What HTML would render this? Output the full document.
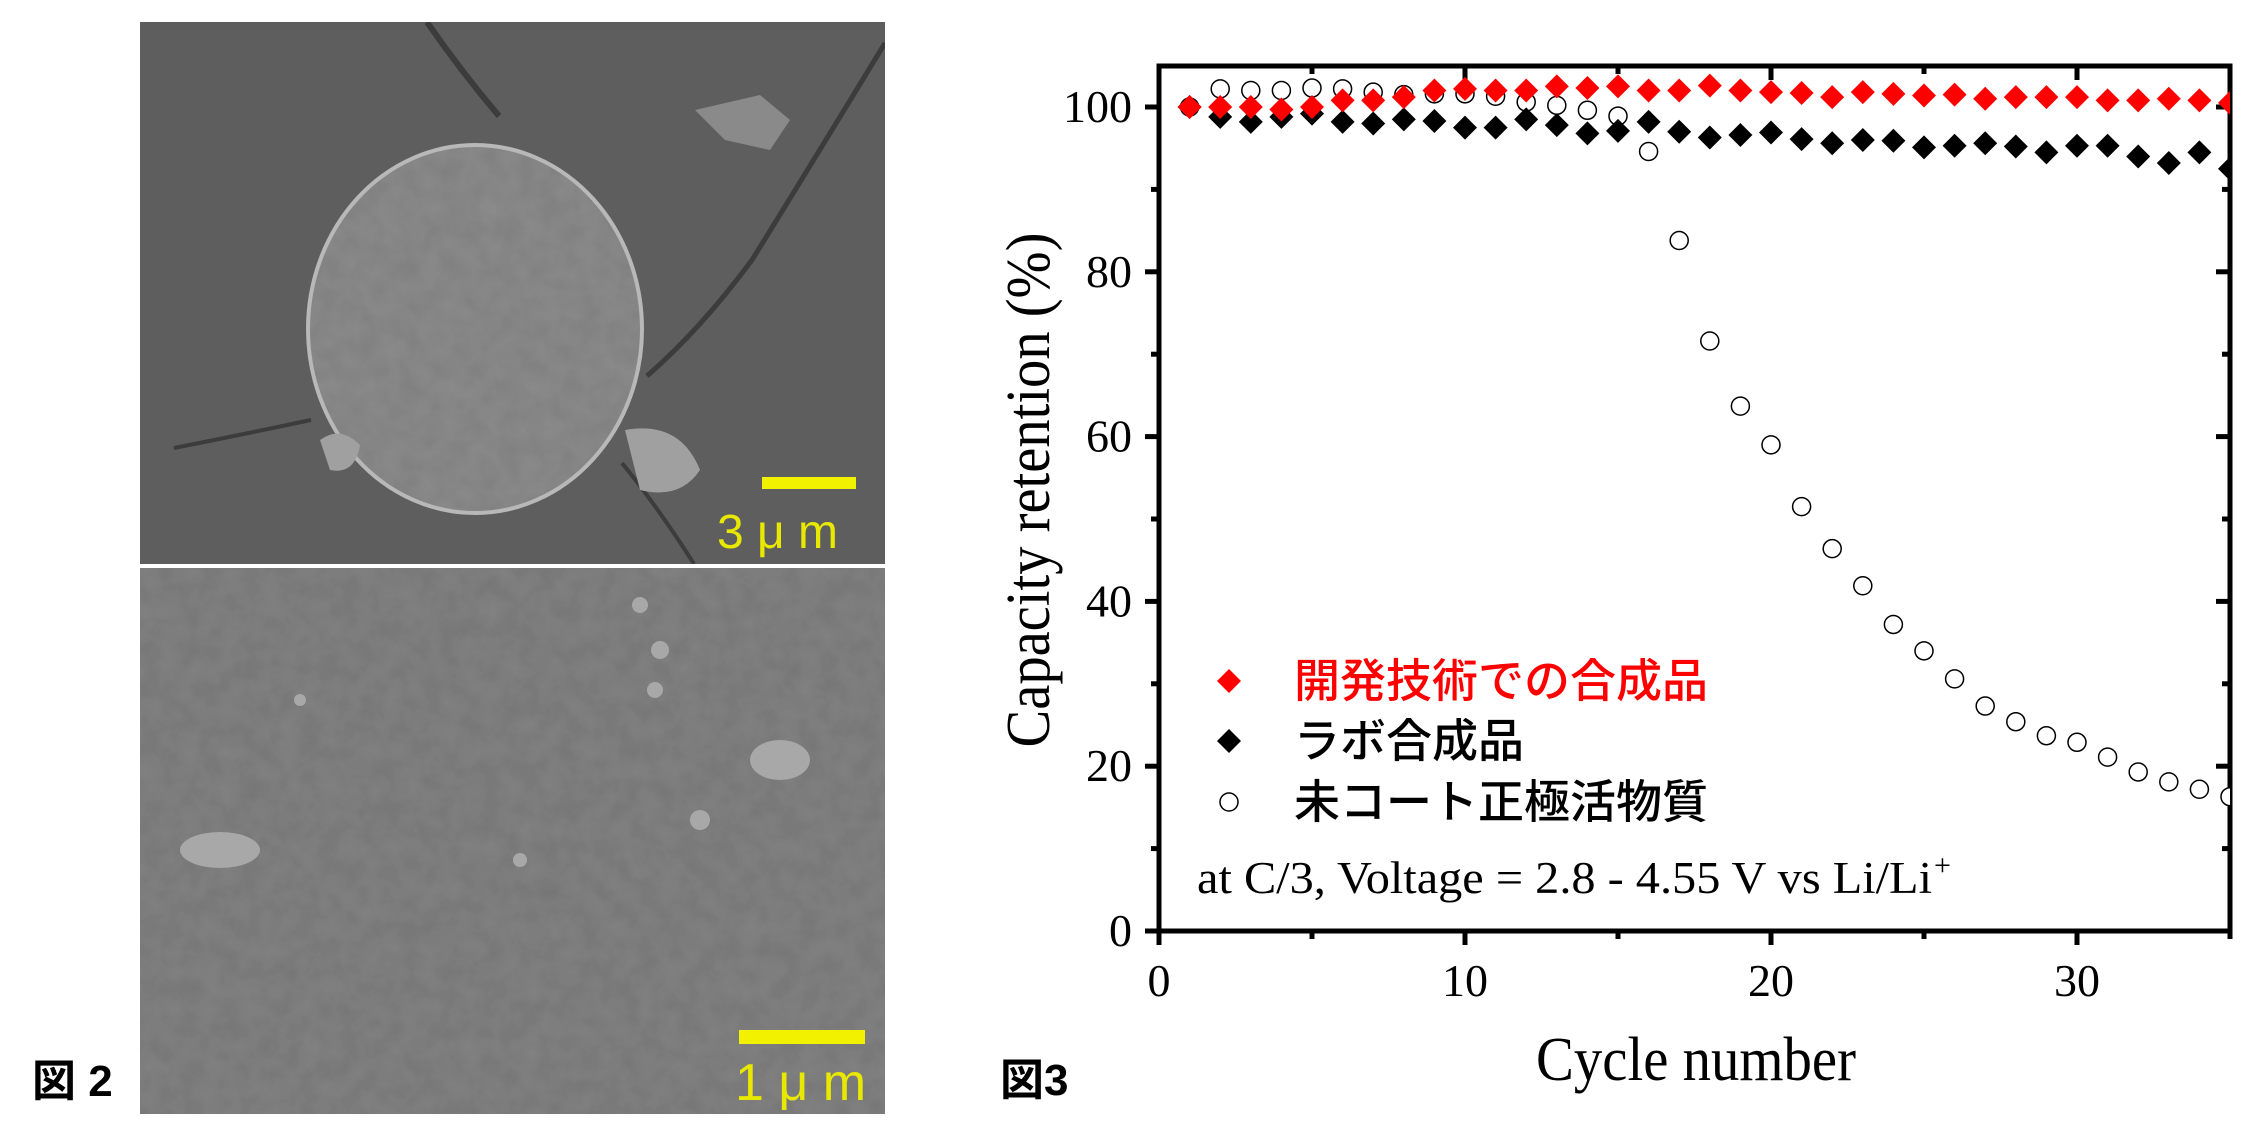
<!DOCTYPE html>
<html><head><meta charset="utf-8"><style>
html,body{margin:0;padding:0;background:#fff;}
svg{display:block;}
</style></head><body>
<svg width="2268" height="1134" viewBox="0 0 2268 1134" xmlns="http://www.w3.org/2000/svg">
<defs>
<filter id="tex" x="0" y="0" width="100%" height="100%">
<feTurbulence type="fractalNoise" baseFrequency="0.05" numOctaves="3" seed="3" result="n"/>
<feColorMatrix in="n" type="matrix" values="0 0 0 0 0.5  0 0 0 0 0.5  0 0 0 0 0.5  0 0 0 0.4 0" result="g"/>
<feComposite in="g" in2="SourceGraphic" operator="in" result="gc"/>
<feBlend in="SourceGraphic" in2="gc" mode="multiply"/>
</filter>
<clipPath id="pc"><rect x="1159" y="66" width="1071" height="865"/></clipPath>
<clipPath id="sem1"><rect x="140" y="22" width="745" height="542"/></clipPath>
</defs>
<!-- SEM top -->
<rect x="140" y="22" width="745" height="542" fill="#5e5e5e"/>
<g clip-path="url(#sem1)" stroke="#3c3c3c" fill="none">
<path d="M427 22 Q460 70 499 116" stroke-width="6"/>
<path d="M885 43 Q820 150 752 260 Q700 330 647 376" stroke-width="5"/>
<path d="M174 448 Q240 435 311 420" stroke-width="4"/>
<path d="M622 463 Q660 510 694 564" stroke-width="4"/>
</g>
<path d="M695 110 L760 95 L790 120 L770 150 L725 140 Z" fill="#8a8a8a"/>
<ellipse cx="475" cy="329" rx="167" ry="184" fill="#8c8c8c" filter="url(#tex)"/>
<ellipse cx="475" cy="329" rx="167" ry="184" fill="none" stroke="#b8b8b8" stroke-width="4"/>
<path d="M320 440 Q340 425 360 445 Q355 475 330 470 Z M625 430 Q680 420 700 470 Q680 500 640 490 Z" fill="#a0a0a0"/>
<rect x="762" y="477" width="94" height="12" fill="#f2f200"/>
<text x="717" y="548" font-family="'Liberation Sans','Noto Sans CJK JP',sans-serif" font-size="48" fill="#e8e800">3 μ m</text>
<!-- SEM bottom -->
<rect x="140" y="568" width="745" height="546" fill="#828282" filter="url(#tex)"/>
<g fill="#a8a8a8">
<circle cx="640" cy="605" r="8"/><circle cx="660" cy="650" r="9"/><circle cx="655" cy="690" r="8"/>
<circle cx="520" cy="860" r="7"/><circle cx="300" cy="700" r="6"/><circle cx="700" cy="820" r="10"/>
<ellipse cx="220" cy="850" rx="40" ry="18"/><ellipse cx="780" cy="760" rx="30" ry="20"/>
</g>
<rect x="739" y="1030" width="126" height="14" fill="#f2f200"/>
<text x="735" y="1100" font-family="'Liberation Sans','Noto Sans CJK JP',sans-serif" font-size="52" fill="#e8e800">1 μ m</text>
<text x="32" y="1096" font-family="'Liberation Sans','Noto Sans CJK JP',sans-serif" font-size="44" font-weight="bold">図 2</text>

<!-- Chart -->
<text x="1000" y="1095" font-family="'Liberation Sans','Noto Sans CJK JP',sans-serif" font-size="44" font-weight="bold">図3</text>
<rect x="1159" y="66" width="1071" height="865" fill="none" stroke="#000" stroke-width="5"/>
<g stroke="#000" stroke-width="5" id="ticks"></g>
<g font-family="'Liberation Serif',serif" font-size="46" text-anchor="end" id="ylab"></g>
<g font-family="'Liberation Serif',serif" font-size="46" text-anchor="middle" id="xlab"></g>
<text x="1536" y="1080" font-family="'Liberation Serif',serif" font-size="62" textLength="320" lengthAdjust="spacingAndGlyphs">Cycle number</text>
<text transform="translate(1049,490) rotate(-90)" font-family="'Liberation Serif',serif" font-size="62" text-anchor="middle" textLength="515" lengthAdjust="spacingAndGlyphs">Capacity retention (%)</text>
<g clip-path="url(#pc)" id="data"></g>
<!-- legend -->
<path d="M1229 669 L1241 681 L1229 693 L1217 681 Z" fill="#f00"/>
<path d="M1229 729 L1241 741 L1229 753 L1217 741 Z" fill="#000"/>
<circle cx="1229" cy="802" r="9" fill="#fff" stroke="#000" stroke-width="1.5"/>
<g font-family="'Liberation Sans','Noto Sans CJK JP',sans-serif" font-size="46" font-weight="500">
<text x="1294" y="697" fill="#f00">開発技術での合成品</text>
<text x="1294" y="757">ラボ合成品</text>
<text x="1294" y="818">未コート正極活物質</text>
</g>
<text x="1197" y="893" font-family="'Liberation Serif',serif" font-size="45" textLength="735" lengthAdjust="spacingAndGlyphs">at C/3, Voltage = 2.8 - 4.55 V vs Li/Li</text>
<text x="1934" y="875" font-family="'Liberation Serif',serif" font-size="30">+</text>
</svg>
<script>
var NS="http://www.w3.org/2000/svg";
function X(c){return 1159+c*30.6;}function Y(v){return 931-v*8.24;}
function el(p,t,a,txt){var e=document.createElementNS(NS,t);for(var k in a)e.setAttribute(k,a[k]);if(txt!=null)e.textContent=txt;document.getElementById(p).appendChild(e);}
for(var v=0;v<=100;v+=10){var y=Y(v),maj=v%20==0,L=maj?14:8;
el("ticks","line",{x1:1159-L,y1:y,x2:1159,y2:y});el("ticks","line",{x1:2230,y1:y,x2:2230-L,y2:y});
if(maj)el("ylab","text",{x:1132,y:y+15},String(v));}
for(var c=0;c<=35;c+=5){var x=X(c),maj=c%10==0,L=maj?14:8;
el("ticks","line",{x1:x,y1:931,x2:x,y2:931+L});el("ticks","line",{x1:x,y1:66,x2:x,y2:66+L});
if(maj)el("xlab","text",{x:x,y:996},String(c));}
var circ=[100,102.2,102,102,102.3,102.2,101.8,101.5,101.6,101.6,101.3,100.6,100.2,99.6,98.9,94.6,83.8,71.6,63.7,59,51.5,46.4,41.9,37.2,34,30.6,27.3,25.4,23.7,22.9,21.1,19.3,18.1,17.2,16.3];
var blk=[100,98.8,98.2,98.8,99.2,98.2,98,98.5,98.3,97.5,97.5,98.5,97.8,96.8,97.1,98.2,97,96.3,96.6,96.9,96.1,95.6,96,95.9,95.1,95.3,95.6,95.2,94.5,95.3,95.3,94,93.2,94.5,92.5];
var red=[100,100,100,99.7,100,100.8,100.8,101.2,102,102.2,102,102,102.5,102.3,102.5,102,102,102.6,102,101.8,101.7,101.2,101.8,101.6,101.4,101.5,101,101.2,101.2,101.2,100.8,100.8,101,100.8,100.5];
function dia(c,v,f){var x=X(c),y=Y(v);el("data","path",{d:"M"+x+" "+(y-12)+"L"+(x+12)+" "+y+"L"+x+" "+(y+12)+"L"+(x-12)+" "+y+"Z",fill:f});}
circ.forEach(function(v,i){el("data","circle",{cx:X(i+1),cy:Y(v),r:9,fill:"#fff",stroke:"#000","stroke-width":1.5});});
blk.forEach(function(v,i){dia(i+1,v,"#000");});
red.forEach(function(v,i){dia(i+1,v,"#f00");});
</script>
</body></html>
